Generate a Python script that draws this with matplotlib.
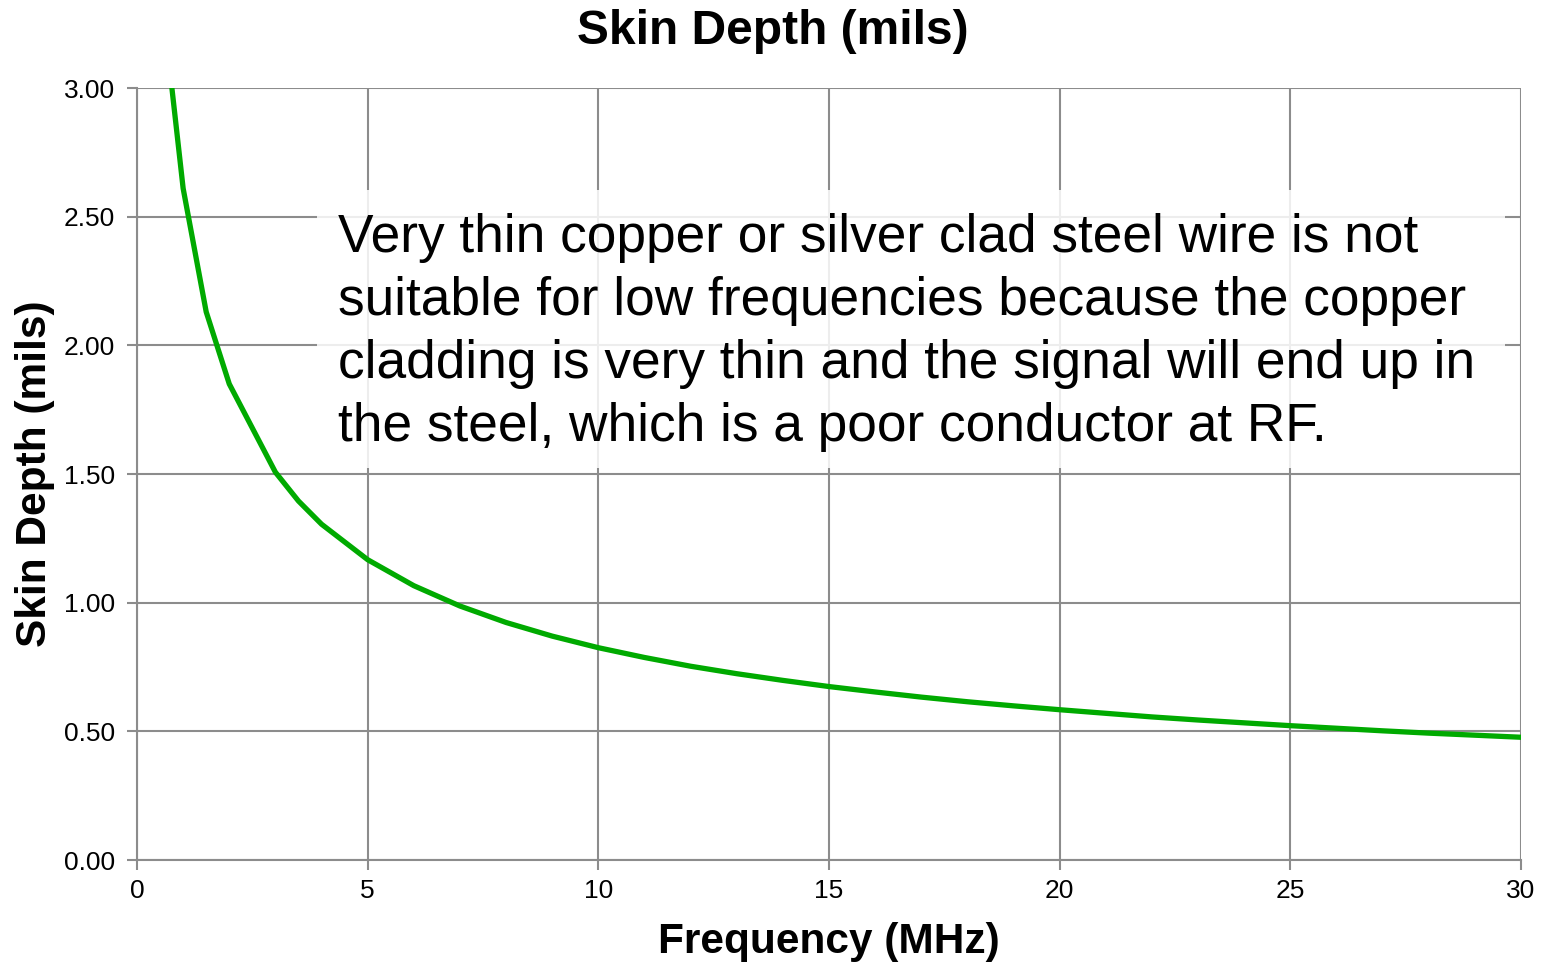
import matplotlib.pyplot as plt
from matplotlib.patches import Rectangle

plt.rcParams['font.family'] = ['Liberation Sans', 'DejaVu Sans']

# Skin depth values
freq_mhz = [0.5, 0.75, 1, 1.5, 2, 3, 3.5, 4, 5, 6, 7, 8, 9, 10, 11, 12, 13, 14, 15,
            16, 17, 18, 19, 20, 21, 22, 23, 24, 25, 26, 27, 28, 29, 30]
depth_mils = [3.69, 3.01, 2.61, 2.13, 1.85, 1.507, 1.395, 1.305, 1.167, 1.066,
              0.987, 0.923, 0.870, 0.825, 0.787, 0.753, 0.724, 0.698, 0.674,
              0.653, 0.633, 0.615, 0.599, 0.584, 0.570, 0.556, 0.544, 0.533,
              0.522, 0.512, 0.502, 0.493, 0.485, 0.477]

x_ticks = [0, 5, 10, 15, 20, 25, 30]
y_ticks = [0.0, 0.5, 1.0, 1.5, 2.0, 2.5, 3.0]

note = ("Very thin copper or silver clad steel wire is not\n"
        "suitable for low frequencies because the copper\n"
        "cladding is very thin and the signal will end up in\n"
        "the steel, which is a poor conductor at RF.")

grid_col = '#8c8c8c'

fig = plt.figure(figsize=(15.45, 9.64), dpi=100)
ax = fig.add_axes([137 / 1545, 1 - 860 / 964, (1521 - 137) / 1545, (860 - 88) / 964])

ax.plot(freq_mhz, depth_mils, color='#00aa00', lw=3.8, zorder=3,
        solid_joinstyle='round')

ax.set_xlim(0, 30)
ax.set_ylim(0, 3)
ax.set_xticks(x_ticks)
ax.set_yticks(y_ticks)
ax.set_yticklabels([f"{v:.2f}" for v in y_ticks])
ax.grid(True, color=grid_col, lw=1.5, zorder=0)
ax.set_axisbelow(True)
for side in ['top', 'right']:
    ax.spines[side].set_visible(False)
for side in ['left', 'bottom']:
    ax.spines[side].set_color(grid_col)
    ax.spines[side].set_linewidth(1.5)
ax.tick_params(colors=grid_col, width=1.5, length=7, labelcolor='black',
               labelsize=19)
ax.tick_params(axis='y', pad=9)
ax.tick_params(axis='x', pad=7)

fig.text(0.5, 1 - 31 / 964, "Skin Depth (mils)", fontsize=34.5,
         fontweight='bold', ha='center', va='center')
ax.set_xlabel("Frequency (MHz)", fontsize=30.5, fontweight='bold', labelpad=13)
ax.set_ylabel("Skin Depth (mils)", fontsize=30.5, fontweight='bold', labelpad=6)

# semi-transparent white box behind the note
fig.patches.append(Rectangle((317 / 1545, 1 - 468 / 964), (1505 - 317) / 1545,
                             (468 - 190) / 964, transform=fig.transFigure,
                             facecolor='white', alpha=0.85, edgecolor='none',
                             zorder=2))
fig.text(338 / 1545, 1 - 213 / 964, note, fontsize=38.3, va='top', ha='left',
         linespacing=1.33, zorder=4)

fig.savefig('out.png', dpi=100)
